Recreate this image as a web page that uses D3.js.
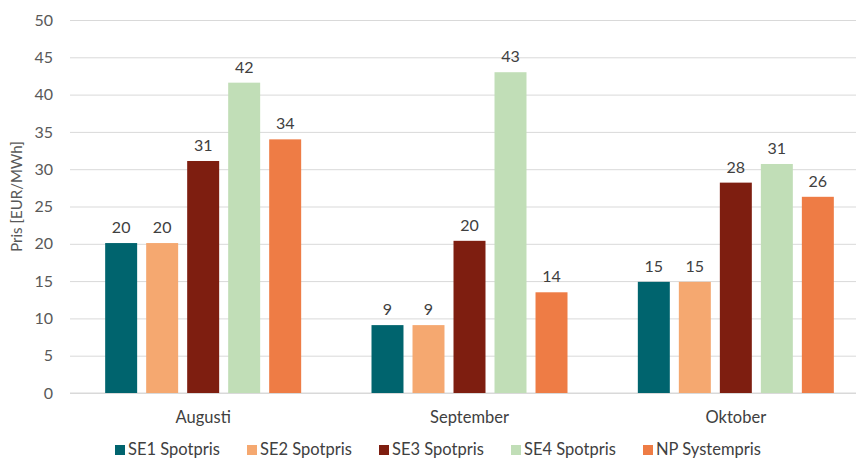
<!DOCTYPE html>
<html>
<head>
<meta charset="utf-8">
<script src="https://cdn.jsdelivr.net/npm/d3@7"></script>
<style>
  html, body { margin: 0; padding: 0; background: #fff; }
  svg { display: block; font-family: Lato, "Open Sans", sans-serif; }
</style>
</head>
<body>
<svg id="chart" width="856" height="459"></svg>
<script>
// Monthly average spot prices per bidding zone
const months = ["Augusti", "September", "Oktober"];
const seriesNames = ["SE1 Spotpris", "SE2 Spotpris", "SE3 Spotpris", "SE4 Spotpris", "NP Systempris"];
const se1 = [20.1, 9.1, 14.9];
const se2 = [20.1, 9.1, 14.9];
const se3 = [31.1, 20.4, 28.2];
const se4 = [41.6, 43.0, 30.7];
const np  = [34.0, 13.5, 26.3];
const yTicks = [0, 5, 10, 15, 20, 25, 30, 35, 40, 45, 50];
const colors = ["#00646E", "#F5A870", "#7E1E10", "#C1DEB7", "#EE7C45"];

const values = [se1, se2, se3, se4, np];
const rows = months.map((m, i) => ({
  month: m,
  vals: seriesNames.map((s, k) => ({ series: s, value: values[k][i] }))
}));

const svg = d3.select("#chart");
const plotLeft = 70, plotRight = 869, plotTop = 20, plotBottom = 393;

const x0 = d3.scaleBand().domain(months).range([plotLeft, plotRight]).paddingInner(0).paddingOuter(0);
const groupWidth = 196;
const x1 = d3.scaleBand().domain(seriesNames).range([0, groupWidth]).paddingInner(0.22).paddingOuter(0);
const y = d3.scaleLinear().domain([0, 50]).range([plotBottom, plotTop]);

// Horizontal gridlines and y tick labels
const yAxis = d3.axisLeft(y).tickValues(yTicks).tickSize(-(plotRight - plotLeft)).tickPadding(17);
const gy = svg.append("g").attr("transform", `translate(${plotLeft},0)`).call(yAxis);
gy.select(".domain").remove();
gy.selectAll(".tick line").attr("stroke", "#D9D9D9").attr("stroke-width", 1);
gy.selectAll(".tick text")
  .attr("fill", "#595959")
  .style("font-size", "16px")
  .style("font-family", "Lato, sans-serif");

// Baseline
svg.append("line")
  .attr("x1", plotLeft).attr("x2", plotRight)
  .attr("y1", y(0)).attr("y2", y(0))
  .attr("stroke", "#D9D9D9");

// Category axis labels
const xAxis = d3.axisBottom(x0).tickSize(0).tickPadding(18);
const gx = svg.append("g").attr("transform", `translate(0,${plotBottom})`).call(xAxis);
gx.select(".domain").remove();
gx.selectAll(".tick text")
  .attr("fill", "#404040")
  .style("font-size", "16.5px")
  .style("font-family", "Lato, sans-serif");

// Bars and value labels
const groups = svg.selectAll("g.month")
  .data(rows)
  .join("g")
  .attr("class", "month")
  .attr("transform", d => `translate(${x0(d.month) + (x0.bandwidth() - groupWidth) / 2},0)`);

groups.selectAll("rect")
  .data(d => d.vals)
  .join("rect")
  .attr("x", d => x1(d.series))
  .attr("width", x1.bandwidth())
  .attr("y", d => y(d.value))
  .attr("height", d => y(0) - y(d.value))
  .attr("fill", (d, i) => colors[i]);

const fmt = d3.format(".0f");
groups.selectAll("text.val")
  .data(d => d.vals)
  .join("text")
  .attr("class", "val")
  .attr("x", d => x1(d.series) + x1.bandwidth() / 2)
  .attr("y", d => y(d.value) - 10)
  .attr("text-anchor", "middle")
  .attr("fill", "#404040")
  .style("font-size", "16px")
  .text(d => fmt(d.value));

// Y axis title
svg.append("text")
  .attr("transform", `translate(22,${(plotTop + plotBottom) / 2 - 10}) rotate(-90)`)
  .attr("text-anchor", "middle")
  .attr("fill", "#595959")
  .style("font-size", "15px")
  .text("Pris [EUR/MWh]");

// Legend
const legend = svg.append("g").attr("transform", "translate(115,455)");
const item = legend.selectAll("g")
  .data(seriesNames)
  .join("g")
  .attr("transform", (d, i) => `translate(${i * 132},0)`);
item.append("rect")
  .attr("x", 0).attr("y", -10)
  .attr("width", 10).attr("height", 10)
  .attr("fill", (d, i) => colors[i]);
item.append("text")
  .attr("x", 13).attr("y", 0)
  .attr("fill", "#404040")
  .style("font-size", "16.5px")
  .text(d => d);
</script>
</body>
</html>
